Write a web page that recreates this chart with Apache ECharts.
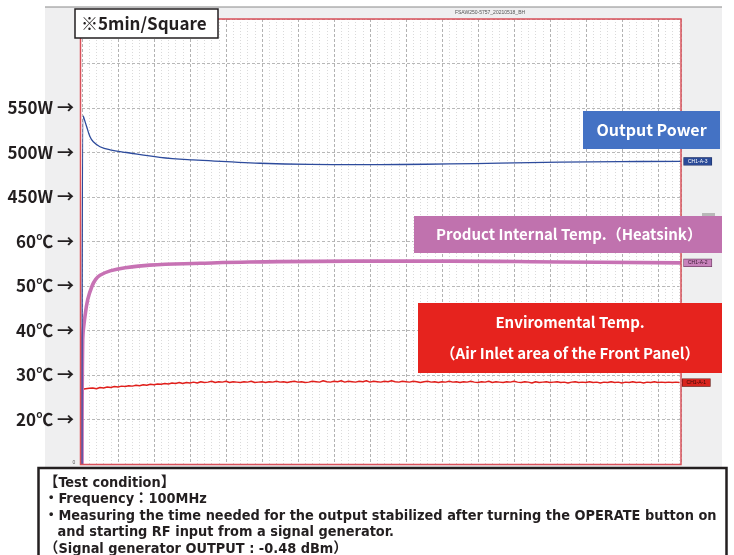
<!DOCTYPE html>
<html><head><meta charset="utf-8">
<script src="https://cdn.jsdelivr.net/npm/echarts@6/dist/echarts.min.js"></script>
<style>html,body{margin:0;padding:0;background:#fff}#c{width:734px;height:555px}</style>
</head><body><div id="c"></div>
<script>
// ---- data (minutes, values) ----
const powerTimes = [0, 0.18, 0.65, 1.1, 1.57, 2.5, 3.9, 6.2, 10.8, 15.4, 20.1, 24.7, 31.7, 38.6, 44.2, 51.1, 58.0, 66.4, 74.7, 83.2];
const powerW     = [150, 541, 529, 518, 512, 506.5, 503, 500, 494.6, 491.6, 489.7, 487.9, 486.6, 486.3, 486.5, 487.2, 488.0, 489.2, 489.8, 490.0];

const heatsinkTimes = [0, 0.1, 0.4, 0.8, 1.4, 1.9, 2.5, 3.9, 6.0, 9.4, 16.4, 23.3, 37.2, 51.0, 66.4, 83.2];
const heatsinkC     = [10, 38, 43, 47, 50, 51.5, 52.4, 53.4, 54.1, 54.7, 55.1, 55.4, 55.6, 55.6, 55.4, 55.2];

const ambientStart = [[0, 10], [0.05, 26.8]];
const ambientC = [
  26.9, 27.0, 27.1, 26.9, 27.2, 27.1, 27.3, 27.2, 27.4, 27.3,
  27.5, 27.4, 27.6, 27.5, 27.7, 27.6, 27.8, 27.7, 27.9, 27.8,
  28.0, 27.9, 28.1, 28.0, 28.2, 28.1, 28.3, 28.1, 28.3, 28.2,
  28.4, 28.2, 28.5, 28.3, 28.4, 28.6, 28.3, 28.5, 28.4, 28.6,
  28.3, 28.5, 28.4, 28.3, 28.5, 28.4, 28.6, 28.3, 28.4, 28.5,
  28.3, 28.5, 28.4, 28.6, 28.4, 28.5, 28.3, 28.5, 28.6, 28.4,
  28.5, 28.3, 28.4, 28.6, 28.5, 28.4, 28.7, 28.5, 28.4, 28.6,
  28.5, 28.7, 28.4, 28.6, 28.5, 28.4, 28.6, 28.5, 28.7, 28.4,
  28.6, 28.5, 28.4, 28.6, 28.5, 28.7, 28.5, 28.4, 28.6, 28.5,
  28.4, 28.6, 28.5, 28.3, 28.5, 28.6, 28.4, 28.5, 28.3, 28.5,
  28.4, 28.6, 28.4, 28.5, 28.3, 28.5, 28.4, 28.6, 28.4, 28.3,
  28.5, 28.4, 28.6, 28.3, 28.5, 28.4, 28.3, 28.5, 28.4, 28.6,
  28.4, 28.3, 28.5, 28.4, 28.2, 28.5, 28.3, 28.4, 28.5, 28.3,
  28.4, 28.5, 28.3, 28.4, 28.2, 28.4, 28.5, 28.3, 28.4, 28.3,
  28.5, 28.3, 28.4, 28.2, 28.4, 28.3, 28.5, 28.3, 28.4, 28.2,
  28.4, 28.3, 28.5, 28.3, 28.4, 28.2, 28.4, 28.3, 28.5, 28.3,
  28.4, 28.3, 28.4, 28.3, 28.4, 28.3
];
const ambientStep = 0.5; // sampling interval, minutes

// ---- axis tick labels ----
const powerTicks = [450, 500, 550];
const tempTicks = [20, 30, 40, 50, 60];
const channelTags = ['CH1-A-3', 'CH1-A-2', 'CH1-A-1'];
const noteLines = [
  '【Test condition】',
  '・Frequency：100MHz',
  '・Measuring the time needed for the output stabilized after turning the OPERATE button on',
  '   and starting RF input from a signal generator.',
  '（Signal generator OUTPUT : -0.48 dBm）'
];

const pairs = (ts, vs) => ts.map((t, i) => [t, vs[i]]);
const ambientData = ambientStart.concat(ambientC.map((v, i) => [(i + 1) * ambientStep, v]));

const labelFont = {color: '#231f20', fontWeight: 'bold', fontSize: 17, fontFamily: '"Noto Sans CJK JP"', margin: 8};
const noteFont = 'bold 14.4px "Liberation Sans Narrow", "DejaVu Sans Condensed", "Noto Sans CJK JP", sans-serif';

const chart = echarts.init(document.getElementById('c'), null, {renderer: 'canvas'});
chart.setOption({
  animation: false,
  backgroundColor: '#fff',
  grid: {left: 82, right: 53, top: 19, bottom: 91, show: false},
  xAxis: {
    type: 'value', min: 0, max: 83.2, interval: 5,
    axisLine: {show: false}, axisTick: {show: false}, axisLabel: {show: false},
    splitLine: {show: true, lineStyle: {color: '#b2b2b2', type: [3, 2], width: 1}},
    minorTick: {show: false, splitNumber: 5},
    minorSplitLine: {show: true, lineStyle: {color: '#dadada', type: [1, 2], width: 1}}
  },
  yAxis: [
    {
      type: 'value', min: 150, max: 650, interval: 50, position: 'left',
      axisLine: {show: false}, axisTick: {show: false}, splitLine: {show: false},
      axisLabel: Object.assign({formatter: v => powerTicks.includes(v) ? v + 'W →' : ''}, labelFont)
    },
    {
      type: 'value', min: 10, max: 110, interval: 10, position: 'left',
      axisLine: {show: false}, axisTick: {show: false},
      splitLine: {show: true, lineStyle: {color: '#b8b8b8', type: [3, 2], width: 1}},
      axisLabel: Object.assign({formatter: v => tempTicks.includes(v) ? v + '℃ →' : ''}, labelFont)
    }
  ],
  series: [
    {
      type: 'line', yAxisIndex: 0, data: pairs(powerTimes, powerW), smooth: 0.4, showSymbol: false, z: 5,
      lineStyle: {color: '#2d4b9c', width: 1.3},
      endLabel: {show: true, formatter: channelTags[0], distance: 3, fontSize: 5, color: '#fff',
        backgroundColor: '#2a4a98', borderColor: '#1d2f66', borderWidth: 0.6, padding: [1, 4, 1, 4]}
    },
    {
      type: 'line', yAxisIndex: 1, data: pairs(heatsinkTimes, heatsinkC), smooth: 0.4, showSymbol: false, z: 4,
      lineStyle: {color: '#c772b4', width: 3.6},
      endLabel: {show: true, formatter: channelTags[1], distance: 3, fontSize: 5, color: '#3a1a33',
        backgroundColor: '#c882bb', borderColor: '#6a3a60', borderWidth: 0.6, padding: [1, 4, 1, 4]}
    },
    {
      type: 'line', yAxisIndex: 1, data: ambientData, showSymbol: false, z: 3,
      lineStyle: {color: '#e0201c', width: 1.5},
      endLabel: {show: true, formatter: channelTags[2], distance: 3, fontSize: 5, color: '#3a0a08',
        backgroundColor: '#d8241e', borderColor: '#6a1410', borderWidth: 0.6, padding: [1, 4, 1, 4]}
    }
  ],
  graphic: [
    {type: 'rect', z: -10, silent: true, shape: {x: 45, y: 7, width: 677, height: 460}, style: {fill: '#efeff0'}},
    {type: 'rect', z: -9, silent: true, shape: {x: 80, y: 19, width: 601, height: 445}, style: {fill: '#fff'}},
    {type: 'line', z: -9, silent: true, shape: {x1: 45, y1: 7, x2: 722, y2: 7}, style: {stroke: '#8a8a8a', lineWidth: 1.2}},
    {type: 'text', z: 20, silent: true, style: {text: 'FSAW250-5757_20210518_BH', x: 490, y: 13, font: '5px sans-serif', fill: '#555', textAlign: 'center', textVerticalAlign: 'middle'}},
    {type: 'text', z: 20, silent: true, style: {text: '0', x: 74, y: 463, font: '5px sans-serif', fill: '#555', textAlign: 'center', textVerticalAlign: 'middle'}},
    {type: 'rect', z: 20, silent: true, shape: {x: 80.5, y: 19, width: 600.5, height: 445.5}, style: {fill: 'none', stroke: '#d9505a', lineWidth: 1.5}},
    {type: 'rect', z: 20, silent: true, shape: {x: 702, y: 213, width: 13, height: 6}, style: {fill: '#b8b8b8'}},
    // ※5min/Square
    {type: 'rect', z: 30, silent: true, shape: {x: 75, y: 9, width: 143, height: 29}, style: {fill: '#fff', stroke: '#231f20', lineWidth: 1.5}},
    {type: 'text', z: 31, silent: true, style: {text: '※5min/Square', x: 81, y: 24, font: 'bold 17px "Noto Sans CJK JP"', fill: '#231f20', textVerticalAlign: 'middle'}},
    // Output Power
    {type: 'rect', z: 30, silent: true, shape: {x: 583, y: 111, width: 137, height: 38}, style: {fill: '#4472c4'}},
    {type: 'text', z: 31, silent: true, style: {text: 'Output Power', x: 651.5, y: 130, font: 'bold 16px "Noto Sans CJK JP"', fill: '#fff', textAlign: 'center', textVerticalAlign: 'middle'}},
    // Heatsink
    {type: 'rect', z: 30, silent: true, shape: {x: 414, y: 216, width: 308, height: 37}, style: {fill: '#c072ae'}},
    {type: 'text', z: 31, silent: true, style: {text: 'Product Internal Temp.（Heatsink）', x: 569, y: 234.5, font: 'bold 15px "Noto Sans CJK JP"', fill: '#fff', textAlign: 'center', textVerticalAlign: 'middle'}},
    // Environmental
    {type: 'rect', z: 30, silent: true, shape: {x: 418, y: 303, width: 304, height: 70}, style: {fill: '#e6231e'}},
    {type: 'text', z: 31, silent: true, style: {text: 'Enviromental Temp.', x: 570, y: 322, font: 'bold 15px "Noto Sans CJK JP"', fill: '#fff', textAlign: 'center', textVerticalAlign: 'middle'}},
    {type: 'text', z: 31, silent: true, style: {text: '（Air Inlet area of the Front Panel）', x: 570, y: 353, font: 'bold 15px "Noto Sans CJK JP"', fill: '#fff', textAlign: 'center', textVerticalAlign: 'middle'}},
    // Test condition box
    {type: 'rect', z: 30, silent: true, shape: {x: 38.5, y: 468, width: 688, height: 100}, style: {fill: '#fff', stroke: '#231f20', lineWidth: 2.5}},
    {type: 'text', z: 31, silent: true, style: {text: noteLines[0], x: 44, y: 483, font: noteFont, fill: '#231f20', textVerticalAlign: 'middle'}},
    {type: 'text', z: 31, silent: true, style: {text: noteLines[1], x: 44, y: 499.5, font: noteFont, fill: '#231f20', textVerticalAlign: 'middle'}},
    {type: 'text', z: 31, silent: true, style: {text: noteLines[2], x: 44, y: 516, font: noteFont, fill: '#231f20', textVerticalAlign: 'middle'}},
    {type: 'text', z: 31, silent: true, style: {text: noteLines[3], x: 44, y: 532.5, font: noteFont, fill: '#231f20', textVerticalAlign: 'middle'}},
    {type: 'text', z: 31, silent: true, style: {text: noteLines[4], x: 44, y: 549, font: noteFont, fill: '#231f20', textVerticalAlign: 'middle'}}
  ]
});
</script>
</body></html>
